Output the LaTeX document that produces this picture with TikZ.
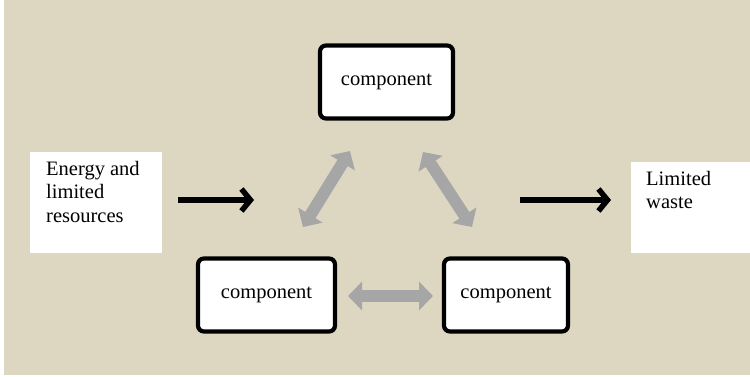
\documentclass[tikz,border=0pt]{standalone}
\usepackage{fontspec}
\setmainfont{Liberation Serif}
\usetikzlibrary{arrows.meta}
\definecolor{paper}{RGB}{221,215,194}
\definecolor{link}{RGB}{166,166,166}
\begin{document}
\begin{tikzpicture}[x=1pt,y=-1pt,
		comp/.style={draw=black,line width=4.2pt,rounded corners=6pt,fill=white,minimum height=73pt,inner sep=0pt,font=\fontsize{20.5}{23}\selectfont},
		panel/.style={fill=white,inner sep=0pt,anchor=north west},
		words/.style={anchor=north west,align=left,inner sep=0pt,font=\fontsize{20.5}{23.5}\selectfont},
		exchange/.style={draw=link,line width=12pt,{Triangle[length=14pt,width=28pt]}-{Triangle[length=14pt,width=28pt]}},
		flow/.style={draw=black,line width=5.5pt,-{Straight Barb[length=9pt,width=22pt]}}]
		\useasboundingbox (0,0) rectangle (750,377);
		\fill[color=white] (0,0) rectangle (750,377);
		\fill[color=paper] (4,0) rectangle (750,375);
		\node[comp,minimum width=133pt] (top) at (386.5,82) {component};
		\node[comp,minimum width=137pt] (left) at (266.5,295) {component};
		\node[comp,minimum width=124pt] (right) at (506,295) {component};
		\node[panel,minimum width=132pt,minimum height=101pt] (inbox) at (30,152) {};
		\node[words] (intext) at (46,161) {Energy and\\limited\\resources};
		\node[panel,minimum width=119pt,minimum height=91pt] (outbox) at (631,162) {};
		\node[words] (outtext) at (646,171) {Limited\\waste};
		\coordinate (tl) at (350,151);
		\coordinate (lt) at (303,227);
		\coordinate (tr) at (423,152);
		\coordinate (rt) at (472,227);
		\coordinate (lr) at (348,296);
		\coordinate (rl) at (433,296);
		\coordinate (instart) at (178,200);
		\coordinate (inend) at (254,200);
		\coordinate (outstart) at (520,200);
		\coordinate (outend) at (611,200);
		\path[exchange] (tl) -- (lt);
		\path[exchange] (tr) -- (rt);
		\path[exchange] (lr) -- (rl);
		\path[flow] (instart) -- (inend);
		\path[flow] (outstart) -- (outend);
	\end{tikzpicture}
\end{document}
